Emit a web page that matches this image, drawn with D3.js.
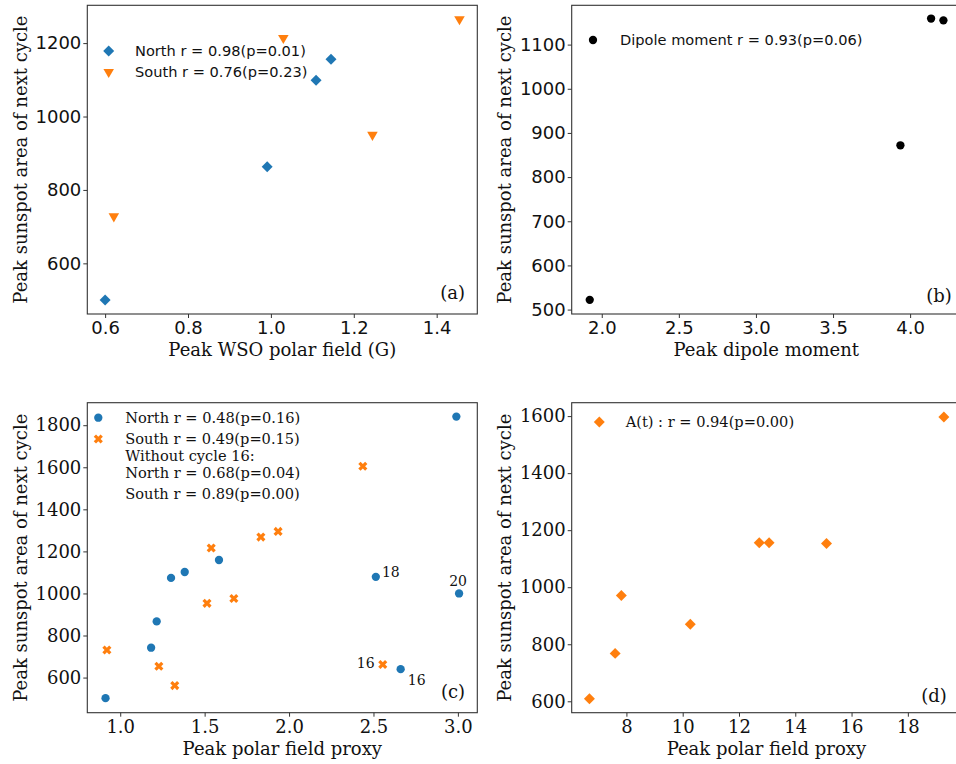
<!DOCTYPE html>
<html><head><meta charset="utf-8">
<script src="https://cdn.jsdelivr.net/npm/d3@7"></script>
<style>body{margin:0;background:#fff}svg{display:block}</style>
</head><body>
<svg id="c" width="956" height="764"></svg>
<script>
// Panel (a): Peak WSO polar field vs peak sunspot area of next cycle
const aNorthX = [0.60, 0.991, 1.109, 1.145];
const aNorthY = [500, 863, 1099, 1156];
const aSouthX = [0.621, 1.03, 1.245, 1.455];
const aSouthY = [728, 1214, 950, 1265];
const aXTicks = [0.6, 0.8, 1.0, 1.2, 1.4];
const aYTicks = [600, 800, 1000, 1200];
const aLegend = ["North r = 0.98(p=0.01)", "South r = 0.76(p=0.23)"];

// Panel (b): dipole moment
const bX = [1.922, 3.937, 4.136, 4.216];
const bY = [522, 872, 1159, 1155];
const bXTicks = [2.0, 2.5, 3.0, 3.5, 4.0];
const bYTicks = [500, 600, 700, 800, 900, 1000, 1100];
const bLegend = "Dipole moment r = 0.93(p=0.06)";

// Panel (c): polar field proxy, north / south
const cNorthX = [0.913, 1.183, 1.216, 1.301, 1.382, 1.585, 2.514, 2.991, 3.007, 2.661];
const cNorthY = [502, 742, 867, 1074, 1102, 1159, 1079, 1841, 1000, 640];
const cSouthX = [0.921, 1.229, 1.323, 1.514, 1.539, 1.673, 1.833, 1.935, 2.437, 2.555];
const cSouthY = [731, 654, 562, 953, 1216, 976, 1268, 1295, 1605, 662];
const cXTicks = [1.0, 1.5, 2.0, 2.5, 3.0];
const cYTicks = [600, 800, 1000, 1200, 1400, 1600, 1800];
const cLegend = ["North r = 0.48(p=0.16)", "South r = 0.49(p=0.15)", "Without cycle 16:", "North r = 0.68(p=0.04)", "South r = 0.89(p=0.00)"];
const cNotes = [ // [series, index, label]
  ["N", 6, "18"], ["N", 8, "20"], ["S", 9, "16"], ["N", 9, "16"]
];

// Panel (d): A(t)
const dX = [6.686, 7.60, 7.82, 10.27, 12.72, 13.07, 15.11, 19.28];
const dY = [609, 768, 971, 870, 1156, 1156, 1153, 1597];
const dXTicks = [8, 10, 12, 14, 16, 18];
const dYTicks = [600, 800, 1000, 1200, 1400, 1600];
const dLegend = "A(t) : r = 0.94(p=0.00)";

const BLUE = "#1f77b4", ORANGE = "#ff7f0e";
const SANS = "DejaVu Sans, sans-serif", SERIF = "DejaVu Serif, serif";
const svg = d3.select("#c");

function panel(o) {
  const x = d3.scaleLinear().domain(o.xd).range(o.xr);
  const y = d3.scaleLinear().domain(o.yd).range(o.yr);
  const g = svg.append("g");
  const xa = g.append("g").attr("transform", `translate(0,${o.yr[0]})`)
    .call(d3.axisBottom(x).tickValues(o.xt).tickFormat(o.fmt).tickSize(4).tickPadding(3.5).tickSizeOuter(0));
  const ya = g.append("g").attr("transform", `translate(${o.xr[0]},0)`)
    .call(d3.axisLeft(y).tickValues(o.yt).tickFormat(d3.format("d")).tickSize(4).tickPadding(2).tickSizeOuter(0));
  [xa, ya].forEach(a => {
    a.select(".domain").remove();
    a.selectAll("line").attr("stroke", "#333").attr("stroke-width", 1);
    a.selectAll("text").attr("font-family", o.tickFont).attr("font-size", 18).attr("fill", "#111");
  });
  g.append("rect").attr("x", o.xr[0]).attr("y", o.yr[1])
    .attr("width", o.xr[1] - o.xr[0]).attr("height", o.yr[0] - o.yr[1])
    .attr("fill", "none").attr("stroke", "#333").attr("stroke-width", 1.1);
  g.append("text").attr("x", (o.xr[0] + Math.min(o.xr[1], 961)) / 2).attr("y", o.yr[0] + 36).attr("dy", "0.35em")
    .attr("text-anchor", "middle").attr("font-family", SERIF).attr("font-size", 18).attr("fill", "#111").text(o.xl);
  g.append("text").attr("transform", `translate(${o.ylx},${(o.yr[0] + o.yr[1]) / 2}) rotate(-90)`).attr("dy", "0.35em")
    .attr("text-anchor", "middle").attr("font-family", SERIF).attr("font-size", 18).attr("fill", "#111").text(o.yl);
  g.append("text").attr("x", o.tag[0]).attr("y", o.tag[1]).attr("dy", "0.35em").attr("text-anchor", "middle")
    .attr("font-family", SERIF).attr("font-size", 18).attr("fill", "#111").text(o.tagText);
  return {x, y, g};
}

const diamond = d3.symbol().type(d3.symbolSquare).size(60)();
const tri = d3.symbol().type(d3.symbolTriangle).size(48)();
const circ = d3.symbol().type(d3.symbolCircle).size(54)();
const xmark = d3.symbol().type(d3.symbolCross).size(52)();

function pts(p, xs, ys, path, color, rot) {
  p.g.append("g").selectAll("path").data(xs).join("path")
    .attr("d", path).attr("fill", color)
    .attr("transform", (d, i) => `translate(${p.x(d)},${p.y(ys[i])}) rotate(${rot})`);
}
function legendMark(p, lx, ly, path, color, rot) {
  p.g.append("path").attr("d", path).attr("fill", color).attr("transform", `translate(${lx},${ly}) rotate(${rot})`);
}
function legendText(p, lx, ly, t, font) {
  p.g.append("text").attr("x", lx).attr("y", ly).attr("dy", "0.35em").attr("font-family", font)
    .attr("font-size", 14.6).attr("fill", "#111").text(t);
}

const YL = "Peak sunspot area of next cycle";
// (a)
const pa = panel({xd: [0.557, 1.498], xr: [87.3, 477.3], yd: [462, 1303], yr: [314, 5.3],
  xt: aXTicks, yt: aYTicks, fmt: d3.format(".1f"), tickFont: SANS,
  xl: "Peak WSO polar field (G)", yl: YL, ylx: 21, tag: [452.7, 292.3], tagText: "(a)"});
pts(pa, aNorthX, aNorthY, diamond, BLUE, 45);
pts(pa, aSouthX, aSouthY, tri, ORANGE, 180);
legendMark(pa, 108.7, 51, diamond, BLUE, 45);
legendMark(pa, 108.7, 72, tri, ORANGE, 180);
legendText(pa, 135, 51, aLegend[0], SANS);
legendText(pa, 135, 72, aLegend[1], SANS);

// (b)
const pb = panel({xd: [1.805, 4.33], xr: [571.7, 961], yd: [490, 1189], yr: [314, 5.3],
  xt: bXTicks, yt: bYTicks, fmt: d3.format(".1f"), tickFont: SANS,
  xl: "Peak dipole moment", yl: YL, ylx: 505, tag: [939, 295.7], tagText: "(b)"});
pts(pb, bX, bY, circ, "#000", 0);
legendMark(pb, 593, 40, circ, "#000", 0);
legendText(pb, 620, 40, bLegend, SANS);

// (c)
const pc = panel({xd: [0.805, 3.115], xr: [87.3, 477.3], yd: [433, 1907], yr: [712.7, 402.7],
  xt: cXTicks, yt: cYTicks, fmt: d3.format(".1f"), tickFont: SERIF,
  xl: "Peak polar field proxy", yl: YL, ylx: 21, tag: [453, 691.3], tagText: "(c)"});
pts(pc, cNorthX, cNorthY, circ, BLUE, 0);
pts(pc, cSouthX, cSouthY, xmark, ORANGE, 45);
legendMark(pc, 98.3, 417.7, circ, BLUE, 0);
legendMark(pc, 98.3, 439, xmark, ORANGE, 45);
[417.7, 439, 456.3, 473, 494].forEach((ly, i) => legendText(pc, 125.3, ly, cLegend[i], SERIF));
const noteOff = {"18": [15, -5], "20": [-1, -12], "16S": [-17, -1], "16N": [16, 11]};
cNotes.forEach(([s, i, t]) => {
  const xs = s === "N" ? cNorthX : cSouthX, ys = s === "N" ? cNorthY : cSouthY;
  const off = noteOff[t === "16" ? t + s : t];
  pc.g.append("text").attr("x", pc.x(xs[i]) + off[0]).attr("y", pc.y(ys[i]) + off[1]).attr("dy", "0.35em")
    .attr("text-anchor", "middle").attr("font-family", SERIF).attr("font-size", 14).attr("fill", "#111").text(t);
});

// (d)
const pd = panel({xd: [6.056, 19.91], xr: [571.7, 961.6], yd: [560, 1647], yr: [712.7, 402.7],
  xt: dXTicks, yt: dYTicks, fmt: d3.format("d"), tickFont: SERIF,
  xl: "Peak polar field proxy", yl: YL, ylx: 505, tag: [934, 695.7], tagText: "(d)"});
pts(pd, dX, dY, diamond, ORANGE, 45);
legendMark(pd, 599.3, 422, diamond, ORANGE, 45);
legendText(pd, 625.7, 422, dLegend, SERIF);
</script>
</body></html>
